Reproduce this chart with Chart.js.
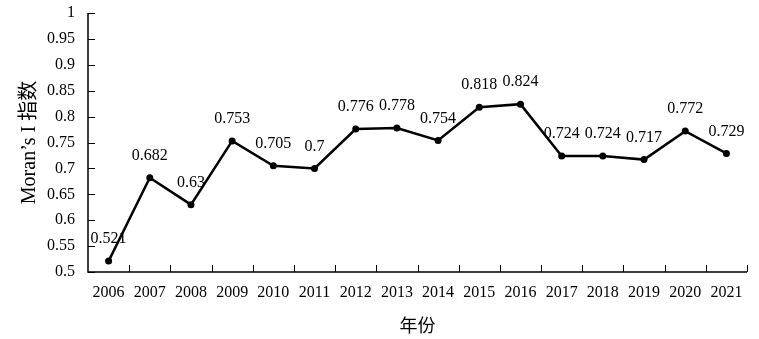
<!DOCTYPE html>
<html>
<head>
<meta charset="utf-8">
<script src="https://cdn.jsdelivr.net/npm/chart.js@4/dist/chart.umd.min.js"></script>
<style>
  html, body { margin: 0; padding: 0; background: #fff; }
  #wrap { width: 759px; height: 339px; position: relative; }
</style>
</head>
<body>
<div id="wrap"><canvas id="moranChart"></canvas></div>
<script>
var years = ['2006', '2007', '2008', '2009', '2010', '2011', '2012', '2013',
             '2014', '2015', '2016', '2017', '2018', '2019', '2020', '2021'];
var moranValues = [0.521, 0.682, 0.63, 0.753, 0.705, 0.7, 0.776, 0.778,
                   0.754, 0.818, 0.824, 0.724, 0.724, 0.717, 0.772, 0.729];
var valueLabels = ['0.521', '0.682', '0.63', '0.753', '0.705', '0.7', '0.776', '0.778',
                   '0.754', '0.818', '0.824', '0.724', '0.724', '0.717', '0.772', '0.729'];

var FONT = "'Liberation Serif', 'Times New Roman', 'Noto Sans CJK SC', serif";

// axis lines + inward tick marks, and the value labels over each point
var axisAndLabels = {
    id: 'axisAndLabels',
    afterDatasetsDraw: function (chart) {
        var ctx = chart.ctx;
        var area = chart.chartArea;
        var xs = chart.scales.x;
        var ys = chart.scales.y;
        ctx.save();
        ctx.strokeStyle = '#000';
        ctx.lineWidth = 1.5;
        ctx.beginPath();
        ctx.moveTo(area.left, area.top);
        ctx.lineTo(area.left, area.bottom);
        ctx.lineTo(area.right, area.bottom);
        ctx.stroke();
        ctx.lineWidth = 1;
        ys.ticks.forEach(function (t) {
            var y = Math.round(ys.getPixelForValue(t.value)) + 0.5;
            ctx.beginPath();
            ctx.moveTo(area.left, y);
            ctx.lineTo(area.left + 7, y);
            ctx.stroke();
        });
        for (var i = 1; i <= years.length; i++) {
            var x = Math.round(xs.getPixelForValue(i - 0.5)) + 0.5;
            ctx.beginPath();
            ctx.moveTo(x, area.bottom);
            ctx.lineTo(x, area.bottom - 7);
            ctx.stroke();
        }
        ctx.fillStyle = '#000';
        ctx.font = '16px ' + FONT;
        ctx.textAlign = 'center';
        ctx.textBaseline = 'middle';
        chart.getDatasetMeta(0).data.forEach(function (pt, i) {
            ctx.fillText(valueLabels[i], pt.x, pt.y - 22);
        });
        ctx.restore();
    }
};

new Chart(document.getElementById('moranChart').getContext('2d'), {
    type: 'line',
    data: {
        labels: years,
        datasets: [{
            label: "Moran's I",
            data: moranValues,
            borderColor: '#000',
            backgroundColor: '#000',
            borderWidth: 2.5,
            pointRadius: 3.5,
            pointBackgroundColor: '#000',
            pointBorderWidth: 0,
            tension: 0
        }]
    },
    options: {
        responsive: true,
        maintainAspectRatio: false,
        animation: false,
        layout: { padding: { top: 3, right: 12, left: 14, bottom: 1 } },
        plugins: {
            legend: { display: false },
            tooltip: { enabled: false }
        },
        scales: {
            x: {
                offset: true,
                grid: { display: false, drawTicks: false },
                border: { display: false },
                ticks: { color: '#000', font: { family: FONT, size: 16 }, padding: 11, maxRotation: 0, autoSkip: false },
                title: { display: true, text: '年份', color: '#000', font: { family: FONT, size: 18 }, padding: { top: 12, bottom: 0 } },
                afterFit: function (scale) { scale.height = 66; }
            },
            y: {
                min: 0.5,
                max: 1,
                grid: { display: false, drawTicks: false },
                border: { display: false },
                ticks: {
                    stepSize: 0.05,
                    color: '#000',
                    padding: 13,
                    font: { family: FONT, size: 16 },
                    callback: function (v) { return String(Math.round(v * 100) / 100); }
                },
                title: { display: true, text: 'Moran’s I 指数', color: '#000', font: { family: FONT, size: 20 }, padding: { top: 4, bottom: 6 } },
                afterFit: function (scale) { scale.width = 74; scale.paddingTop = 13; scale.paddingBottom = 0; }
            }
        }
    },
    plugins: [axisAndLabels]
});
</script>
</body>
</html>
